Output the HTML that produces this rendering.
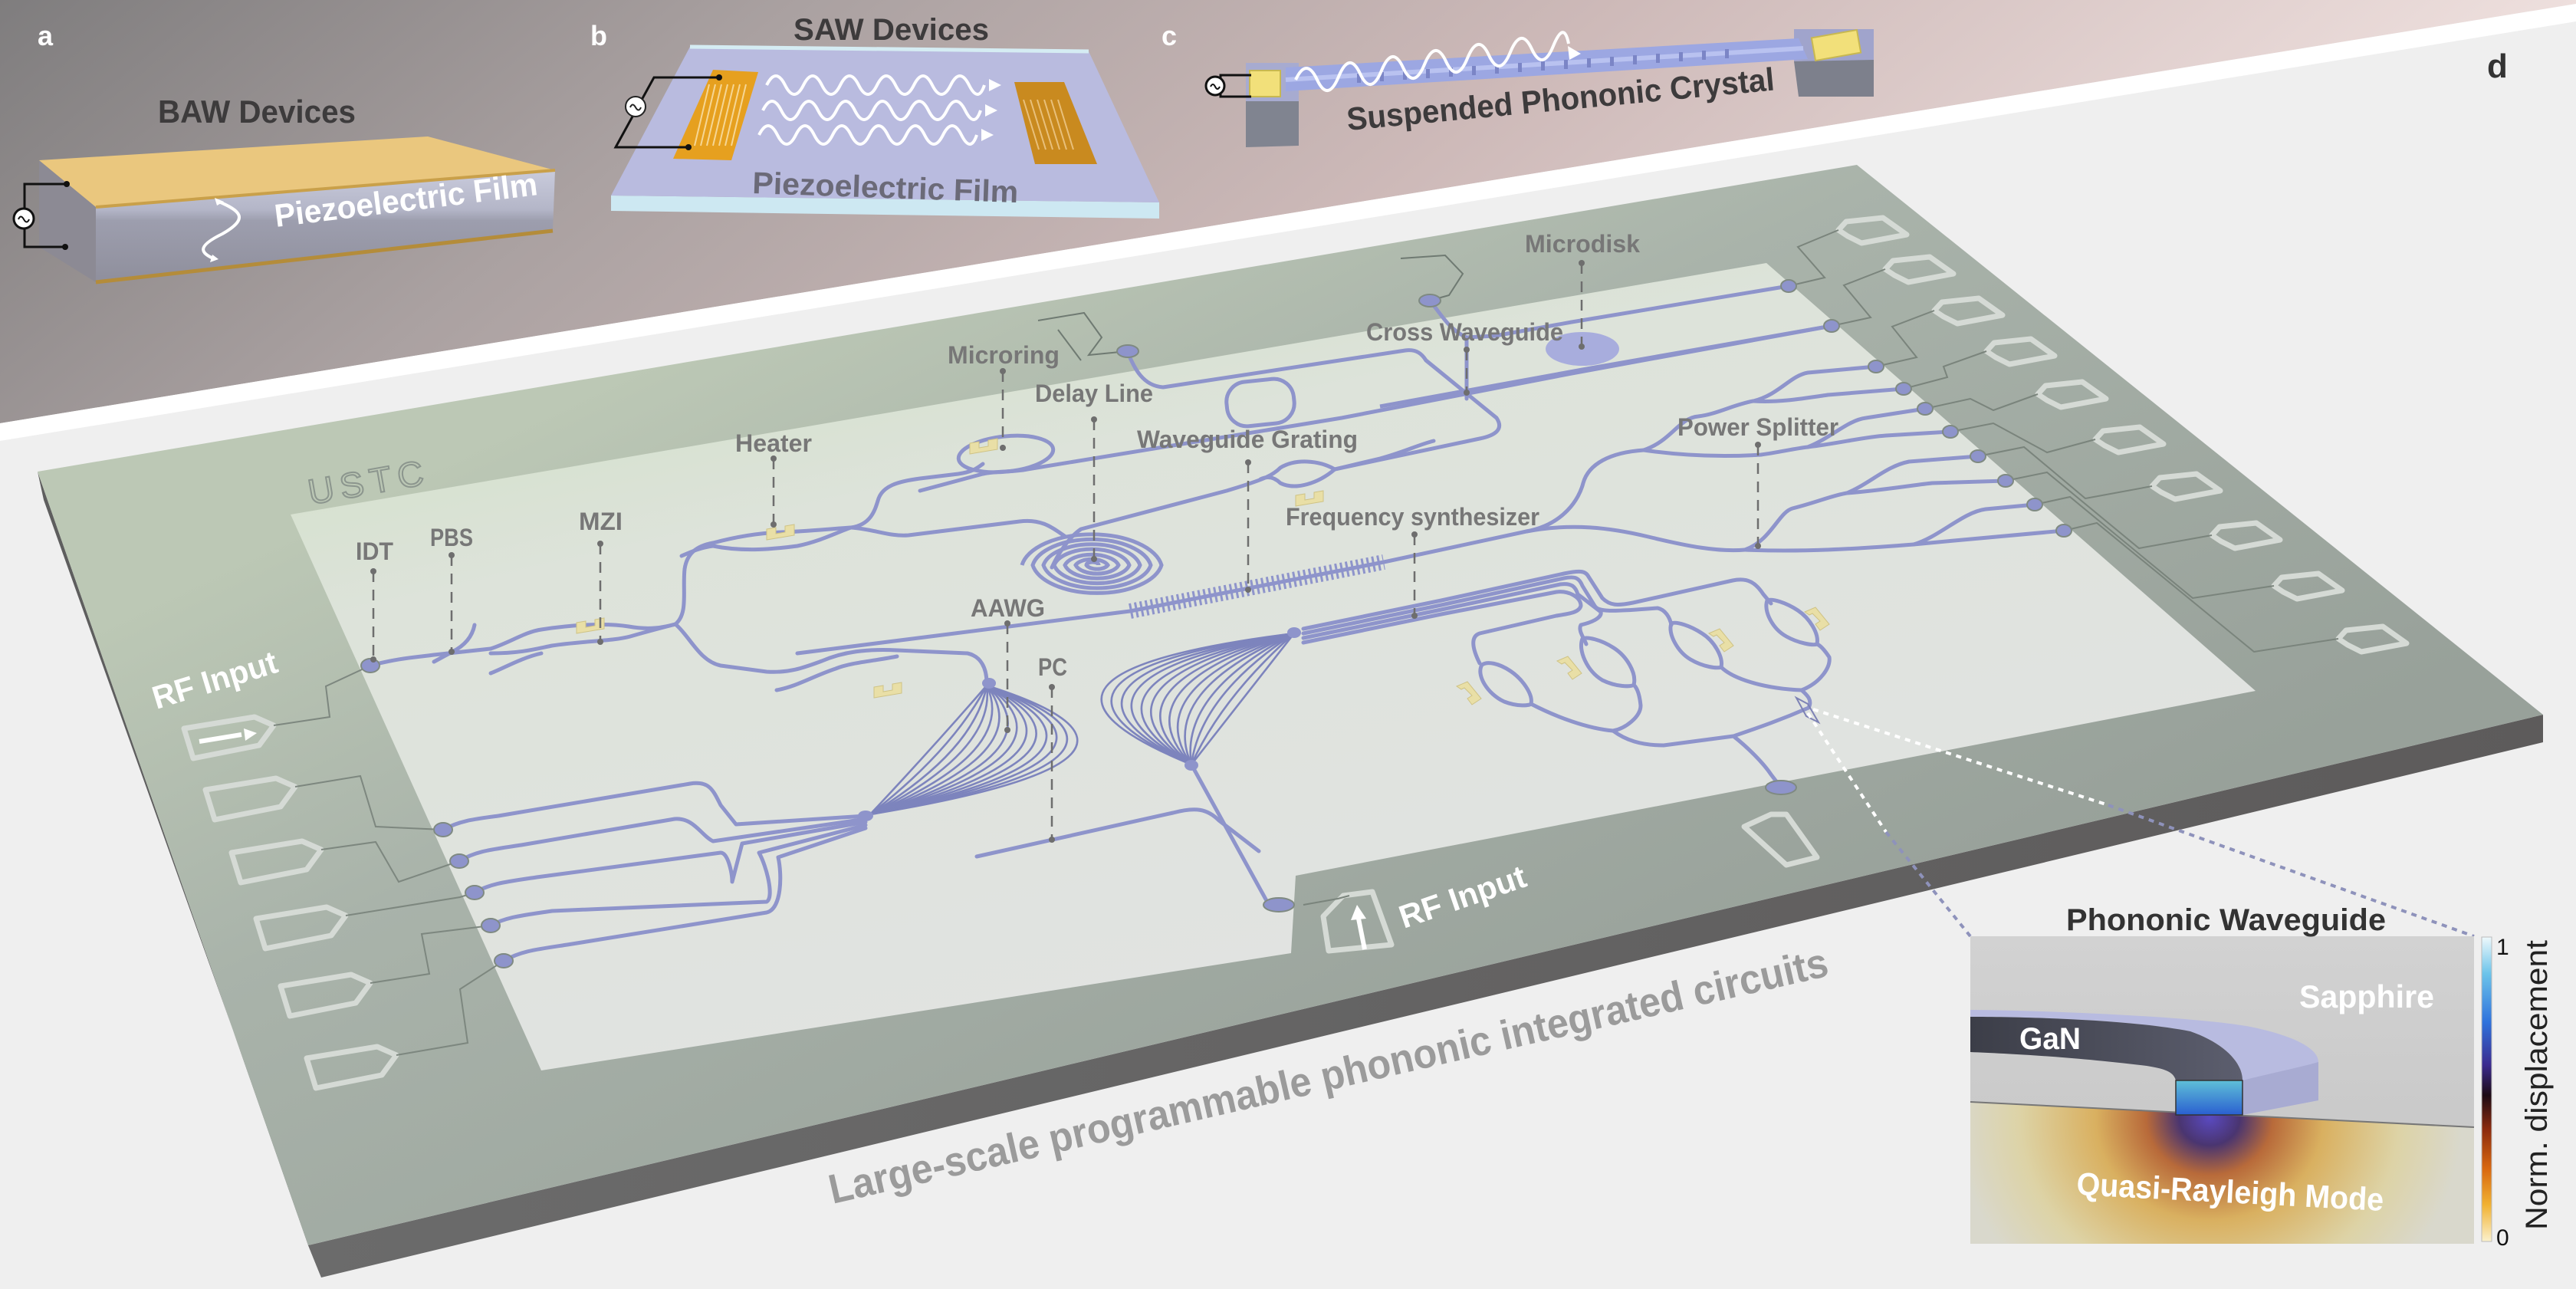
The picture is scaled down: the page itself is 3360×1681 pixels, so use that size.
<!DOCTYPE html>
<html><head><meta charset="utf-8"><style>
html,body{margin:0;padding:0;background:#efefef;}
svg{display:block;}
text{font-family:"Liberation Sans",sans-serif;}
</style></head><body>
<svg width="3360" height="1681" viewBox="0 0 3360 1681" xmlns="http://www.w3.org/2000/svg">
<defs>
<linearGradient id="band" x1="0" y1="0" x2="1" y2="0.2">
<stop offset="0" stop-color="#7f7d7e"/><stop offset="0.3" stop-color="#aaa1a1"/><stop offset="0.6" stop-color="#cdb9b8"/><stop offset="1" stop-color="#f1e3e1"/></linearGradient>
<linearGradient id="chipTop" gradientUnits="userSpaceOnUse" x1="1300" y1="250" x2="1900" y2="1500">
<stop offset="0" stop-color="#bcc8b5"/><stop offset="0.35" stop-color="#a9b3aa"/><stop offset="1" stop-color="#98a19a"/></linearGradient>
<linearGradient id="inner" gradientUnits="userSpaceOnUse" x1="1500" y1="380" x2="1700" y2="1250">
<stop offset="0" stop-color="#d6e1cf"/><stop offset="0.2" stop-color="#dde3da"/><stop offset="1" stop-color="#e1e3e1"/></linearGradient>
<linearGradient id="front" x1="0" y1="0" x2="1" y2="0">
<stop offset="0" stop-color="#6b6b6b"/><stop offset="1" stop-color="#5d5b5b"/></linearGradient>
<linearGradient id="bawFront" x1="0" y1="0" x2="0" y2="1">
<stop offset="0" stop-color="#c9cbdc"/><stop offset="0.35" stop-color="#b4b6c8"/><stop offset="0.45" stop-color="#9d9eae"/><stop offset="1" stop-color="#8f8f9c"/></linearGradient>
<linearGradient id="cbar" x1="0" y1="0" x2="0" y2="1">
<stop offset="0" stop-color="#eef9fc"/><stop offset="0.12" stop-color="#6cc4ea"/><stop offset="0.28" stop-color="#2f72dc"/><stop offset="0.42" stop-color="#3b2b8f"/><stop offset="0.52" stop-color="#1c0a14"/><stop offset="0.63" stop-color="#8a2a0e"/><stop offset="0.76" stop-color="#d8670f"/><stop offset="0.88" stop-color="#f1b233"/><stop offset="1" stop-color="#fbf1cc"/></linearGradient>
<radialGradient id="mode" gradientUnits="userSpaceOnUse" cx="2882" cy="1458" r="330" gradientTransform="translate(2882 1458) scale(1 0.9) translate(-2882 -1458)">
<stop offset="0" stop-color="#5a4ac0"/><stop offset="0.12" stop-color="#4a3570"/><stop offset="0.25" stop-color="#b86a3a"/><stop offset="0.45" stop-color="#d9b060"/><stop offset="0.75" stop-color="#ddd3a6"/><stop offset="1" stop-color="#d9d8cc"/></radialGradient>
<linearGradient id="xsec" x1="0" y1="0" x2="0" y2="1"><stop offset="0" stop-color="#5fc0d8"/><stop offset="1" stop-color="#2a5fd0"/></linearGradient>
<linearGradient id="gan" x1="0" y1="0" x2="1" y2="0"><stop offset="0" stop-color="#3c3e48"/><stop offset="1" stop-color="#5c5e6e"/></linearGradient>
<linearGradient id="insetTop" x1="0" y1="0" x2="0" y2="1"><stop offset="0" stop-color="#d2d2d2"/><stop offset="1" stop-color="#c4c4c4"/></linearGradient>
</defs>

<polygon points="0,0 3360,0 3360,5 0,552" fill="url(#band)"/>
<polygon points="0,552 3360,5 3360,28 0,575" fill="#ffffff"/>

<!-- a: BAW -->
<polygon points="51,209 125,270 125,368 51,322" fill="#8c8a94"/>
<polygon points="125,270 724,222 721,301 125,368" fill="url(#bawFront)"/>
<polygon points="51,209 558,178 724,222 125,270" fill="#eac77e"/>
<polyline points="125,270 724,222" stroke="#c9a04a" stroke-width="4" fill="none"/>
<polyline points="125,368 721,301" stroke="#b48c3a" stroke-width="5" fill="none"/>
<polyline points="87,240 32,240 32,322 85,322" stroke="#111" stroke-width="3" fill="none"/>
<circle cx="87" cy="240" r="4" fill="#111"/><circle cx="85" cy="322" r="4" fill="#111"/>
<circle cx="31" cy="285" r="13" fill="#fff" stroke="#111" stroke-width="3"/>
<path d="M24,286 q3,-7 7,0 q4,7 7,0" stroke="#111" stroke-width="2" fill="none"/>
<path d="M283,262 C315,275 325,285 290,305 C255,322 262,330 280,338" stroke="#fff" stroke-width="4" fill="none"/>
<polygon points="280,258 292,263 283,268" fill="#fff"/><polygon points="285,338 274,342 277,332" fill="#fff"/>
<text x="360" y="296" font-size="42" font-weight="bold" fill="#ffffff" textLength="345" lengthAdjust="spacingAndGlyphs" transform="rotate(-7 360 296)">Piezoelectric Film</text>
<text x="206" y="160" font-size="42" font-weight="bold" fill="#3d3b3c" textLength="258" lengthAdjust="spacingAndGlyphs">BAW Devices</text>
<text x="49" y="59" font-size="36" font-weight="bold" fill="#ffffff">a</text>

<!-- b: SAW -->
<polygon points="797,255 1512,264 1512,285 797,275" fill="#cde8f2"/>
<polygon points="900,61 1420,67 1512,264 797,255" fill="#b9bbdf"/>
<polyline points="900,61 1420,67" stroke="#d5ecf3" stroke-width="5" fill="none"/>
<polygon points="930,91 989,94 954,209 878,207" fill="#e6a01f"/>
<g stroke="#f6d694" stroke-width="2">
<line x1="925" y1="110" x2="906" y2="190"/><line x1="933" y1="110" x2="914" y2="190"/><line x1="941" y1="110" x2="922" y2="190"/><line x1="949" y1="110" x2="930" y2="190"/><line x1="957" y1="110" x2="938" y2="190"/><line x1="965" y1="110" x2="946" y2="190"/><line x1="973" y1="110" x2="954" y2="190"/></g>
<polygon points="1323,107 1388,107 1431,214 1350,214" fill="#c98a1f"/>
<g stroke="#e9c07a" stroke-width="2">
<line x1="1335" y1="130" x2="1355" y2="195"/><line x1="1344" y1="130" x2="1364" y2="195"/><line x1="1353" y1="130" x2="1373" y2="195"/><line x1="1362" y1="130" x2="1382" y2="195"/><line x1="1371" y1="130" x2="1391" y2="195"/><line x1="1380" y1="130" x2="1400" y2="195"/></g>
<polyline points="938,101 853,101 803,192 898,192" stroke="#111" stroke-width="3" fill="none"/>
<circle cx="938" cy="101" r="4" fill="#111"/><circle cx="898" cy="192" r="4" fill="#111"/>
<circle cx="829" cy="139" r="13" fill="#fff" stroke="#222" stroke-width="2"/>
<path d="M822,140 q3,-7 7,0 q4,7 7,0" stroke="#222" stroke-width="2" fill="none"/>
<g stroke="#fff" stroke-width="4" fill="none">
<path d="M1000,111 q12,-24 24,0 t24,0 t24,0 t24,0 t24,0 t24,0 t24,0 t24,0 t24,0 t24,0 t24,0 t20,0"/>
<path d="M995,144 q12,-24 24,0 t24,0 t24,0 t24,0 t24,0 t24,0 t24,0 t24,0 t24,0 t24,0 t24,0 t20,0"/>
<path d="M990,176 q12,-24 24,0 t24,0 t24,0 t24,0 t24,0 t24,0 t24,0 t24,0 t24,0 t24,0 t24,0 t20,0"/></g>
<polygon points="1290,103 1306,111 1290,119" fill="#fff"/><polygon points="1285,136 1301,144 1285,152" fill="#fff"/><polygon points="1280,168 1296,176 1280,184" fill="#fff"/>
<text x="981" y="252" font-size="40" font-weight="bold" fill="#6b6a78" textLength="347" lengthAdjust="spacingAndGlyphs" transform="rotate(2 981 252)">Piezoelectric Film</text>
<text x="1035" y="52" font-size="40" font-weight="bold" fill="#3d3b3c" textLength="255" lengthAdjust="spacingAndGlyphs">SAW Devices</text>
<text x="770" y="59" font-size="36" font-weight="bold" fill="#ffffff">b</text>

<!-- c -->
<polygon points="1625,132 1694,132 1694,190 1625,192" fill="#808490"/>
<polygon points="1625,82 1694,82 1694,132 1625,132" fill="#a7abd0"/>
<polygon points="2340,80 2444,76 2444,126 2346,126" fill="#7d808c"/>
<polygon points="2340,38 2444,38 2444,78 2340,80" fill="#a0a4cc"/>
<polygon points="1677,88 2346,50 2358,77 1677,119" fill="#9ca7e2"/>
<polyline points="1677,104 2352,63" stroke="#b9c2f0" stroke-width="6"/>
<g fill="#7b85c6">
<rect x="1770" y="96" width="5" height="12"/><rect x="1800" y="94" width="5" height="12"/><rect x="1830" y="92" width="5" height="12"/><rect x="1860" y="90" width="5" height="12"/><rect x="1890" y="88" width="5" height="12"/><rect x="1920" y="86" width="5" height="12"/><rect x="1950" y="84" width="5" height="12"/><rect x="1980" y="82" width="5" height="12"/><rect x="2010" y="80" width="5" height="12"/><rect x="2040" y="78" width="5" height="12"/><rect x="2070" y="76" width="5" height="12"/><rect x="2100" y="74" width="5" height="12"/><rect x="2130" y="72" width="5" height="12"/><rect x="2160" y="70" width="5" height="12"/><rect x="2190" y="68" width="5" height="12"/><rect x="2220" y="66" width="5" height="12"/><rect x="2250" y="64" width="5" height="12"/></g>
<rect x="1630" y="92" width="40" height="34" fill="#f2e07a" stroke="#c8b850" stroke-width="2"/>
<rect x="2365" y="44" width="60" height="30" fill="#f2e07a" stroke="#c8b850" stroke-width="2" transform="rotate(-10 2395 59)"/>
<polyline points="1632,98 1592,98 1592,126 1632,126" stroke="#111" stroke-width="3" fill="none"/>
<circle cx="1585" cy="112" r="12" fill="#fff" stroke="#111" stroke-width="3"/>
<path d="M1579,113 q3,-6 6,0 q3,6 6,0" stroke="#111" stroke-width="2" fill="none"/>
<path d="M1690,104 q14,-30 28,0 t28,-4 t28,-4 t28,-4 t28,-4 t28,-4 t28,-4 t28,-4 t28,-4 t28,-4 t28,-4 t28,-4 t20,-3" stroke="#fff" stroke-width="4" fill="none"/>
<polygon points="2045,60 2062,70 2047,78" fill="#fff"/>
<text x="1758" y="170" font-size="42" font-weight="bold" fill="#3d3b3c" textLength="560" lengthAdjust="spacingAndGlyphs" transform="rotate(-5.4 1758 170)">Suspended Phononic Crystal</text>
<text x="1515" y="59" font-size="36" font-weight="bold" fill="#ffffff">c</text>
<text x="3244" y="101" font-size="44" font-weight="bold" fill="#333333">d</text>

<!-- Chip -->
<polygon points="49,615 402,1624 419,1666 57,652" fill="#5e5e5e"/>
<polygon points="402,1624 3317,932 3317,968 419,1666" fill="url(#front)"/>
<polygon points="49,615 2422,215 3317,932 402,1624" fill="url(#chipTop)"/>
<polygon points="379,671 2304,343 2942,901 1690,1142 1684,1243 706,1396" fill="url(#inner)"/>
<text x="405" y="658" font-size="46" fill="none" stroke="#8c968e" stroke-width="2" letter-spacing="8" textLength="160" lengthAdjust="spacingAndGlyphs" transform="rotate(-10 405 658)">USTC</text>

<g fill="none" stroke="#d5dad5" stroke-width="7" stroke-linejoin="round">
<polygon points="0,0 92,-15 117,-4 98,22 12,39" transform="translate(240,950)"/>
<polygon points="0,0 92,-15 117,-4 98,22 12,39" transform="translate(268,1030)"/>
<polygon points="0,0 92,-15 117,-4 98,22 12,39" transform="translate(302,1112)"/>
<polygon points="0,0 92,-15 117,-4 98,22 12,39" transform="translate(334,1198)"/>
<polygon points="0,0 92,-15 117,-4 98,22 12,39" transform="translate(366,1286)"/>
<polygon points="0,0 92,-15 117,-4 98,22 12,39" transform="translate(400,1380)"/>
</g>
<g fill="none" stroke="#7d877f" stroke-width="2">
<polyline points="357,946 430,935 425,895 483,868"/>
<polyline points="385,1026 470,1012 490,1078 578,1082"/>
<polyline points="419,1108 490,1098 520,1150 599,1123"/>
<polyline points="451,1194 600,1170 619,1164"/>
<polyline points="483,1282 560,1270 550,1218 640,1207"/>
<polyline points="517,1376 610,1360 600,1290 657,1253"/>
</g>
<line x1="260" y1="967" x2="315" y2="958" stroke="#fff" stroke-width="6"/>
<polygon points="318,950 335,956 320,966" fill="#fff"/>

<g fill="none" stroke="#d5dad5" stroke-width="7" stroke-linejoin="round">
<polygon points="0,16 10,5 58,0 89,22 30,33 12,24" transform="translate(2398,284)"/>
<polygon points="0,16 10,5 58,0 89,22 30,33 12,24" transform="translate(2459,335)"/>
<polygon points="0,16 10,5 58,0 89,22 30,33 12,24" transform="translate(2523,389)"/>
<polygon points="0,16 10,5 58,0 89,22 30,33 12,24" transform="translate(2591,442)"/>
<polygon points="0,16 10,5 58,0 89,22 30,33 12,24" transform="translate(2658,498)"/>
<polygon points="0,16 10,5 58,0 89,22 30,33 12,24" transform="translate(2733,557)"/>
<polygon points="0,16 10,5 58,0 89,22 30,33 12,24" transform="translate(2807,618)"/>
<polygon points="0,16 10,5 58,0 89,22 30,33 12,24" transform="translate(2885,682)"/>
<polygon points="0,16 10,5 58,0 89,22 30,33 12,24" transform="translate(2966,748)"/>
<polygon points="0,16 10,5 58,0 89,22 30,33 12,24" transform="translate(3050,817)"/>
</g>
<g fill="none" stroke="#7a847c" stroke-width="2">
<polyline points="2333,373 2380,362 2345,322 2398,300"/>
<polyline points="2389,425 2440,414 2405,372 2459,351"/>
<polyline points="2447,478 2500,466 2468,426 2523,405"/>
<polyline points="2483,507 2540,492 2535,478 2591,458"/>
<polyline points="2511,533 2570,520 2600,535 2658,514"/>
<polyline points="2544,563 2600,552 2670,590 2733,573"/>
<polyline points="2580,595 2640,583 2720,650 2807,634"/>
<polyline points="2616,627 2670,616 2790,715 2885,698"/>
<polyline points="2654,658 2700,648 2860,780 2966,764"/>
<polyline points="2692,692 2735,682 2940,850 3050,833"/>
</g>

<g fill="none" stroke="#6f7a72" stroke-width="2">
<polyline points="1354,418 1414,408 1437,440 1420,463 1471,458"/>
<polyline points="1380,430 1410,470"/>
<polyline points="1827,337 1885,333 1908,357 1890,385 1865,392"/>
</g>
<polygon points="1733,1240 1726,1195 1752,1168 1790,1163 1815,1232" fill="none" stroke="#d5dad5" stroke-width="7" stroke-linejoin="round"/>
<polyline points="1700,1180 1745,1172 1760,1168" stroke="#7a847c" stroke-width="2" fill="none"/>
<line x1="1780" y1="1238" x2="1772" y2="1198" stroke="#fff" stroke-width="6"/>
<polygon points="1762,1200 1770,1180 1782,1198" fill="#fff"/>
<polygon points="2275,1078 2310,1062 2330,1062 2370,1118 2330,1128" fill="none" stroke="#d5dad5" stroke-width="7" stroke-linejoin="round"/>

<g fill="none" stroke="#8e94cb" stroke-width="5" stroke-linecap="round" stroke-linejoin="round">
<path d="M483,868 C520,858 545,857 566,854 L640,846"/>
<path d="M566,863 L590,850 C606,842 616,830 619,815"/>
<path d="M640,846 C665,838 685,824 706,821 C745,815 790,812 820,817 C848,822 866,818 881,814"/>
<path d="M640,852 C680,852 700,846 720,842 C760,836 800,836 822,830 C846,823 866,818 881,814"/>
<path d="M640,878 C660,870 680,858 706,852"/>
<path d="M881,814 C898,800 890,770 893,742 C896,722 908,712 930,708"/>
<path d="M930,708 C960,700 990,695 1020,694 C1050,693 1080,690 1110,688"/>
<path d="M930,712 C970,720 1010,716 1040,712 C1070,706 1092,694 1110,688"/>
<path d="M889,725 C905,718 915,714 930,712"/>
<path d="M1110,688 C1138,684 1142,662 1146,650 C1152,634 1170,628 1200,624 L1250,618 C1270,615 1275,610 1282,605"/>
<path d="M1110,688 C1140,690 1160,700 1185,698 L1330,680 C1360,676 1375,690 1390,700"/>
<path d="M881,814 C900,830 912,862 940,868 L1000,876 C1030,878 1050,870 1072,862 C1100,850 1130,846 1170,848 L1262,852 C1280,856 1287,872 1287,891"/>
<path d="M1013,900 C1040,895 1060,882 1090,872 C1110,864 1140,862 1170,856"/>
<path d="M1040,852 L1474,797 L1805,733 L1991,693"/>
<ellipse cx="1312" cy="592" rx="62" ry="23" transform="rotate(-6 1312 592)"/>
<path d="M1200,640 L1282,618 C1300,614 1320,616 1340,612 L1750,545 L2050,487 L2389,425"/>
<path d="M1471,460 C1480,480 1490,503 1517,505 L1833,457 C1848,455 1855,462 1860,470 L1952,545 C1962,560 1950,568 1930,572 L1741,612"/>
<path d="M1741,612 C1720,600 1690,598 1670,610 C1660,620 1650,625 1600,640 L1410,690 C1395,700 1380,722 1372,740"/>
<path d="M1741,612 C1720,630 1690,640 1670,630 C1660,620 1650,622 1644,625"/>
<path d="M1741,612 L1800,598 C1830,590 1850,580 1870,575"/>
<rect x="1600" y="496" width="88" height="58" rx="26" ry="26" transform="rotate(-6 1644 525)"/>
<path d="M1865,392 C1880,410 1890,430 1913,440 L1950,438 L2050,420 L2333,373"/>
<path d="M1913,440 L1913,520"/>
<path d="M1991,693 C2040,684 2060,650 2065,630 C2072,605 2100,590 2144,587"/>
<path d="M2144,587 C2180,575 2190,545 2215,543 C2240,540 2260,528 2287,523"/>
<path d="M2287,523 C2320,515 2335,490 2358,486 L2447,478"/>
<path d="M2287,523 C2320,525 2350,520 2384,515 L2483,507"/>
<path d="M2144,587 C2200,595 2250,596 2297,593 C2320,590 2340,585 2358,583"/>
<path d="M2358,583 C2390,570 2410,548 2434,545 L2511,533"/>
<path d="M2358,583 C2400,578 2430,570 2460,568 L2544,563"/>
<path d="M1991,693 C2050,682 2100,688 2150,700 C2200,712 2240,720 2276,717"/>
<path d="M2276,717 C2310,705 2320,668 2338,663 C2370,655 2390,646 2409,643"/>
<path d="M2409,643 C2440,630 2460,608 2490,602 L2580,595"/>
<path d="M2409,643 C2450,640 2500,632 2520,630 L2616,627"/>
<path d="M2276,717 C2350,720 2420,716 2496,710"/>
<path d="M2496,710 C2530,700 2560,668 2590,664 L2654,658"/>
<path d="M2496,710 C2560,704 2620,698 2692,692"/>
<path d="M1700,820 L1880,783 L2040,748 C2060,744 2068,744 2072,752 L2090,780 C2100,790 2110,790 2130,786 L2260,757 C2280,753 2290,760 2300,775 L2310,787"/>
<path d="M1700,826 L1880,789 L2040,754 C2055,751 2060,754 2064,764 L2080,790 C2085,798 2100,798 2162,793 C2172,795 2178,805 2180,815"/>
<path d="M1700,832 L1880,795 L2035,762 C2050,760 2055,765 2058,775 L2088,798 C2090,806 2075,812 2062,815 C2058,822 2066,832 2069,840"/>
<path d="M1700,838 L1880,801 L2030,772 C2045,770 2062,778 2062,790 C2060,798 2050,800 2030,803 L1930,826 C1918,830 1920,845 1930,865"/>
<path d="M1933,867 C1925,880 1940,905 1962,915 C1980,922 1995,920 1997,918 C2000,905 1985,885 1970,875 C1955,865 1940,862 1933,867Z"/>
<path d="M2064,833 C2058,848 2070,875 2090,887 C2108,896 2128,896 2131,893 C2135,878 2122,856 2105,845 C2088,834 2070,830 2064,833Z"/>
<path d="M2180,813 C2175,826 2188,850 2205,860 C2222,870 2240,872 2245,870 C2248,857 2236,836 2220,826 C2205,816 2186,810 2180,813Z"/>
<path d="M2305,783 C2300,797 2312,820 2330,830 C2346,839 2365,842 2370,840 C2373,826 2360,806 2345,796 C2330,786 2311,780 2305,783Z"/>
<path d="M1997,918 C2030,935 2070,950 2104,953 C2120,950 2140,935 2140,920 C2138,900 2133,895 2131,893"/>
<path d="M2245,870 C2260,885 2300,898 2350,900 C2375,890 2388,870 2386,857 C2380,848 2375,842 2370,840"/>
<path d="M2104,953 C2120,965 2140,972 2170,972 L2261,960 C2290,950 2320,940 2359,923 C2365,912 2355,905 2350,900"/>
<path d="M2261,960 C2280,975 2300,995 2310,1010 L2323,1027"/>
<path d="M578,1082 C600,1070 620,1068 650,1064 L900,1022 C925,1018 930,1030 940,1050 L960,1075 L1129,1064"/>
<path d="M599,1123 C620,1110 640,1108 680,1102 L880,1068 C905,1066 915,1090 930,1097 L1129,1068"/>
<path d="M619,1164 C640,1152 660,1150 700,1144 L940,1112 C950,1112 955,1140 955,1150 L968,1100 L1129,1072"/>
<path d="M640,1207 C660,1196 680,1194 720,1188 L1000,1176 C1010,1170 1000,1130 990,1112 L1129,1076"/>
<path d="M657,1253 C680,1240 700,1238 740,1232 L1000,1190 C1020,1185 1020,1140 1015,1118 L1129,1080"/>
<path d="M1554,997 L1655,1180"/>
<path d="M1274,1117 L1530,1060 C1560,1052 1575,1055 1590,1070 L1642,1110"/>
</g>
<path d="M1474,797 L1805,733" stroke="#8e94cb" stroke-width="20" stroke-dasharray="3 4" fill="none"/>
<path d="M1433,737 A8,4 0 0 0 1417,737 A15,8 0 0 0 1445,737 A22,11 0 0 0 1403,737 A29,15 0 0 0 1459,737 A36,18 0 0 0 1389,737 A43,22 0 0 0 1473,737 A50,26 0 0 0 1375,737 A57,29 0 0 0 1487,737 A64,33 0 0 0 1361,737 A71,36 0 0 0 1501,737 A78,40 0 0 0 1347,737 A85,43 0 0 0 1515,737 A92,47 0 0 0 1333,737" fill="none" stroke="#8e94cb" stroke-width="5"/>
<ellipse cx="2064" cy="455" rx="48" ry="22" fill="#a8addd"/>
<path d="M1800,530 L2064,482 L2389,425" fill="none" stroke="#8e94cb" stroke-width="5"/>
<g fill="none" stroke="#7d84bd" stroke-width="2.6">
<path d="M1135,1062 Q1214,978 1287,894"/><path d="M1135,1062 Q1242,979 1287,894"/><path d="M1135,1062 Q1271,980 1287,894"/><path d="M1135,1062 Q1299,980 1287,894"/><path d="M1135,1062 Q1328,981 1287,894"/><path d="M1135,1062 Q1356,982 1287,894"/><path d="M1135,1062 Q1385,983 1287,894"/><path d="M1135,1062 Q1413,983 1287,894"/><path d="M1135,1062 Q1442,984 1287,894"/><path d="M1135,1062 Q1470,985 1287,894"/><path d="M1135,1062 Q1499,986 1287,894"/><path d="M1135,1062 Q1527,986 1287,894"/><path d="M1135,1062 Q1556,987 1287,894"/><path d="M1135,1062 Q1584,988 1287,894"/>
<path d="M1688,826 Q1621,911 1554,997"/><path d="M1688,826 Q1594,909 1554,997"/><path d="M1688,826 Q1566,906 1554,997"/><path d="M1688,826 Q1539,904 1554,997"/><path d="M1688,826 Q1511,901 1554,997"/><path d="M1688,826 Q1484,899 1554,997"/><path d="M1688,826 Q1457,896 1554,997"/><path d="M1688,826 Q1429,894 1554,997"/><path d="M1688,826 Q1402,891 1554,997"/><path d="M1688,826 Q1375,889 1554,997"/><path d="M1688,826 Q1347,886 1554,997"/><path d="M1688,826 Q1320,884 1554,997"/><path d="M1688,826 Q1292,881 1554,997"/><path d="M1688,826 Q1265,879 1554,997"/>
</g>
<g fill="#8e94cb" stroke="#7f8a82" stroke-width="2">
<ellipse cx="483" cy="868" rx="12" ry="9"/>
<ellipse cx="578" cy="1082" rx="12" ry="9"/><ellipse cx="599" cy="1123" rx="12" ry="9"/><ellipse cx="619" cy="1164" rx="12" ry="9"/><ellipse cx="640" cy="1207" rx="12" ry="9"/><ellipse cx="657" cy="1253" rx="12" ry="9"/>
<ellipse cx="1471" cy="458" rx="14" ry="8"/><ellipse cx="1865" cy="392" rx="14" ry="8"/>
<ellipse cx="2333" cy="373" rx="10" ry="8"/><ellipse cx="2389" cy="425" rx="10" ry="8"/><ellipse cx="2447" cy="478" rx="10" ry="8"/><ellipse cx="2483" cy="507" rx="10" ry="8"/><ellipse cx="2511" cy="533" rx="10" ry="8"/><ellipse cx="2544" cy="563" rx="10" ry="8"/><ellipse cx="2580" cy="595" rx="10" ry="8"/><ellipse cx="2616" cy="627" rx="10" ry="8"/><ellipse cx="2654" cy="658" rx="10" ry="8"/><ellipse cx="2692" cy="692" rx="10" ry="8"/>
<ellipse cx="1668" cy="1180" rx="20" ry="9"/><ellipse cx="2323" cy="1027" rx="20" ry="9"/>
</g>
<g fill="#8e94cb"><ellipse cx="1129" cy="1064" rx="10" ry="7"/><ellipse cx="1290" cy="891" rx="9" ry="7"/><ellipse cx="1688" cy="825" rx="9" ry="7"/><ellipse cx="1554" cy="998" rx="9" ry="7"/></g>
<g fill="#e9dfa6" stroke="#cfc385" stroke-width="1">
<path d="M1000,690 l12,-2 0,8 12,-2 0,-8 12,-2 0,14 -36,6z"/>
<path d="M752,812 l12,-2 0,8 12,-2 0,-8 12,-2 0,14 -36,6z"/>
<path d="M1140,896 l12,-2 0,8 12,-2 0,-8 12,-2 0,14 -36,6z"/>
<path d="M1265,578 l12,-2 0,8 12,-2 0,-8 12,-2 0,14 -36,6z"/>
<path d="M1690,646 l12,-2 0,8 12,-2 0,-8 12,-2 0,14 -36,6z"/>
<path d="M1900,895 l14,-6 18,22 -12,8 -6,-8 6,-4 -10,-10 -4,2z"/>
<path d="M2031,862 l14,-6 18,22 -12,8 -6,-8 6,-4 -10,-10 -4,2z"/>
<path d="M2229,826 l14,-6 18,22 -12,8 -6,-8 6,-4 -10,-10 -4,2z"/>
<path d="M2354,798 l14,-6 18,22 -12,8 -6,-8 6,-4 -10,-10 -4,2z"/>
</g>

<g stroke="#6e6e6e" stroke-width="2.5" stroke-dasharray="14 10" fill="none">
<line x1="487" y1="745" x2="487" y2="860"/><line x1="589" y1="724" x2="589" y2="850"/><line x1="783" y1="709" x2="783" y2="837"/>
<line x1="1009" y1="598" x2="1009" y2="684"/><line x1="1308" y1="484" x2="1308" y2="584"/><line x1="1427" y1="547" x2="1427" y2="729"/>
<line x1="1628" y1="603" x2="1628" y2="769"/><line x1="1845" y1="697" x2="1845" y2="803"/><line x1="1913" y1="456" x2="1913" y2="512"/>
<line x1="2063" y1="343" x2="2063" y2="452"/><line x1="2293" y1="580" x2="2293" y2="712"/><line x1="1314" y1="813" x2="1314" y2="952"/><line x1="1372" y1="896" x2="1372" y2="1095"/>
</g>
<g fill="#6e6e6e">
<circle cx="487" cy="745" r="4"/><circle cx="487" cy="860" r="4"/><circle cx="589" cy="724" r="4"/><circle cx="589" cy="850" r="4"/><circle cx="783" cy="709" r="4"/><circle cx="783" cy="837" r="4"/>
<circle cx="1009" cy="598" r="4"/><circle cx="1009" cy="684" r="4"/><circle cx="1308" cy="484" r="4"/><circle cx="1308" cy="584" r="4"/><circle cx="1427" cy="547" r="4"/><circle cx="1427" cy="729" r="4"/>
<circle cx="1628" cy="603" r="4"/><circle cx="1628" cy="769" r="4"/><circle cx="1845" cy="697" r="4"/><circle cx="1845" cy="803" r="4"/><circle cx="1913" cy="456" r="4"/><circle cx="1913" cy="512" r="4"/>
<circle cx="2063" cy="343" r="4"/><circle cx="2063" cy="452" r="4"/><circle cx="2293" cy="580" r="4"/><circle cx="2293" cy="712" r="4"/><circle cx="1314" cy="813" r="4"/><circle cx="1314" cy="952" r="4"/><circle cx="1372" cy="896" r="4"/><circle cx="1372" cy="1095" r="4"/>
</g>
<g font-size="32" font-weight="bold" fill="#777777">
<text x="1236" y="474" textLength="146" lengthAdjust="spacingAndGlyphs">Microring</text>
<text x="1350" y="524" textLength="154" lengthAdjust="spacingAndGlyphs">Delay Line</text>
<text x="1483" y="584" textLength="288" lengthAdjust="spacingAndGlyphs">Waveguide Grating</text>
<text x="959" y="589" textLength="100" lengthAdjust="spacingAndGlyphs">Heater</text>
<text x="1782" y="444" textLength="257" lengthAdjust="spacingAndGlyphs">Cross Waveguide</text>
<text x="1989" y="329" textLength="150" lengthAdjust="spacingAndGlyphs">Microdisk</text>
<text x="2188" y="568" textLength="210" lengthAdjust="spacingAndGlyphs">Power Splitter</text>
<text x="1677" y="685" textLength="331" lengthAdjust="spacingAndGlyphs">Frequency synthesizer</text>
<text x="755" y="691" textLength="57" lengthAdjust="spacingAndGlyphs">MZI</text>
<text x="561" y="712" textLength="56" lengthAdjust="spacingAndGlyphs">PBS</text>
<text x="464" y="730" textLength="49" lengthAdjust="spacingAndGlyphs">IDT</text>
<text x="1266" y="804" textLength="97" lengthAdjust="spacingAndGlyphs">AAWG</text>
<text x="1354" y="881" textLength="38" lengthAdjust="spacingAndGlyphs">PC</text>
</g>
<text x="204" y="925" font-size="42" font-weight="bold" fill="#ffffff" textLength="168" lengthAdjust="spacingAndGlyphs" transform="rotate(-17 204 925)">RF Input</text>
<text x="1831" y="1211" font-size="42" font-weight="bold" fill="#ffffff" textLength="172" lengthAdjust="spacingAndGlyphs" transform="rotate(-19 1831 1211)">RF Input</text>
<text x="1086" y="1570" font-size="54" font-weight="bold" fill="#9b9b9b" textLength="1335" lengthAdjust="spacingAndGlyphs" transform="rotate(-12.9 1086 1570)">Large-scale programmable phononic integrated circuits</text>

<polygon points="2343,910 2358,918 2372,942 2356,934" fill="none" stroke="#7d82b5" stroke-width="2"/>
<g stroke-width="4" stroke-dasharray="7 7" fill="none">
<line x1="2358" y1="930" x2="2460" y2="1085" stroke="#ffffff"/><line x1="2460" y1="1085" x2="2570" y2="1221" stroke="#8e92bb"/>
<line x1="2365" y1="925" x2="2750" y2="1050" stroke="#ffffff"/><line x1="2750" y1="1050" x2="3227" y2="1221" stroke="#8e92bb"/>
</g>

<rect x="2570" y="1221" width="657" height="401" fill="url(#insetTop)"/>
<polygon points="2570,1437 3227,1470 3227,1622 2570,1622" fill="url(#mode)"/>
<line x1="2570" y1="1437" x2="3227" y2="1470" stroke="#777" stroke-width="2"/>
<path d="M2570,1317 C2700,1318 2884,1328 2940,1340 C2995,1352 3024,1368 3024,1385 L3024,1435 L2925,1454 L2925,1409 C2925,1385 2900,1360 2857,1345 C2780,1330 2650,1326 2570,1326 Z" fill="#b8bbe0"/>
<path d="M2570,1326 C2650,1326 2780,1330 2857,1345 C2900,1360 2925,1385 2925,1409 L2838,1409 C2835,1398 2825,1394 2800,1390 C2700,1378 2620,1374 2570,1372 Z" fill="url(#gan)"/>
<path d="M2925,1409 C2960,1400 3000,1392 3024,1385 L3024,1435 L2925,1454 Z" fill="#a8abd2"/>
<rect x="2838" y="1409" width="87" height="45" fill="url(#xsec)" stroke="#333" stroke-width="1.5"/>
<rect x="3237" y="1222" width="13" height="397" fill="url(#cbar)" stroke="#bbb" stroke-width="1"/>
<text x="2695" y="1213" font-size="40" font-weight="bold" fill="#333" textLength="417" lengthAdjust="spacingAndGlyphs">Phononic Waveguide</text>
<text x="2634" y="1368" font-size="40" font-weight="bold" fill="#fff" textLength="80" lengthAdjust="spacingAndGlyphs">GaN</text>
<text x="2999" y="1314" font-size="42" font-weight="bold" fill="#fff" textLength="176" lengthAdjust="spacingAndGlyphs">Sapphire</text>
<text x="2708" y="1558" font-size="42" font-weight="bold" fill="#fff" textLength="401" lengthAdjust="spacingAndGlyphs" transform="rotate(3 2708 1558)">Quasi-Rayleigh Mode</text>
<text x="3256" y="1245" font-size="30" fill="#111">1</text>
<text x="3256" y="1624" font-size="30" fill="#111">0</text>
<text x="3322" y="1604" font-size="40" fill="#222" textLength="378" lengthAdjust="spacingAndGlyphs" transform="rotate(-90 3322 1604)">Norm. displacement</text>
</svg>
</body></html>
